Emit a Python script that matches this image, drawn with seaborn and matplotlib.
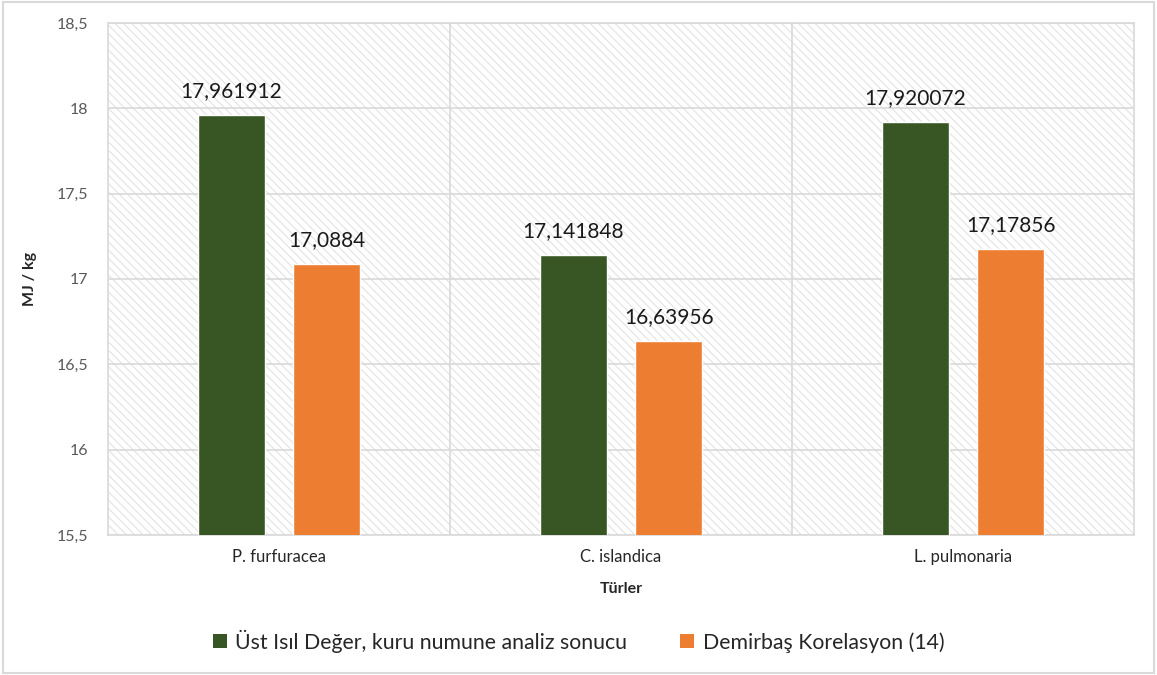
import matplotlib
matplotlib.use("Agg")
import matplotlib.pyplot as plt
import seaborn as sns
import pandas as pd
from matplotlib.patches import Rectangle, Patch

categories = ["P. furfuracea", "C. islandica", "L. pulmonaria"]
series_names = ["Üst Isıl Değer, kuru numune analiz sonucu", "Demirbaş Korelasyon (14)"]
ust_isil = [17.961912, 17.141848, 17.920072]
demirbas = [17.0884, 16.63956, 17.17856]
yticks = [15.5, 16, 16.5, 17, 17.5, 18, 18.5]
ytick_labels = ["15,5", "16", "16,5", "17", "17,5", "18", "18,5"]
colors = ["#375623", "#ED7D31"]

df = pd.DataFrame({
    "Türler": categories * 2,
    "value": ust_isil + demirbas,
    "series": [series_names[0]] * 3 + [series_names[1]] * 3,
})

sns.set_theme(style="white")
plt.rcParams["font.family"] = ["Lato", "DejaVu Sans"]
plt.rcParams["hatch.linewidth"] = 0.8

fig = plt.figure(figsize=(11.57, 6.75), dpi=100)
ax = fig.add_axes([108 / 1157, 1 - 535 / 675, (1134 - 108) / 1157, (535 - 23) / 675])

# hatched background
bg = Rectangle((0, 0), 1, 1, transform=ax.transAxes, facecolor="white",
               edgecolor="#e2e2e2", hatch="\\\\\\\\", linewidth=0, zorder=0)
ax.add_patch(bg)

sns.barplot(data=df, x="Türler", y="value", hue="series", palette=colors,
            width=0.557, gap=0.29, ax=ax, legend=False, zorder=3,
            saturation=1, errorbar=None)

ax.set_xlim(-0.5, 2.5)
ax.set_ylim(15.5, 18.5)
ax.set_yticks(yticks)
ax.set_yticklabels(ytick_labels, fontsize=11.5, color="#595959")
ax.tick_params(axis="x", labelsize=12, colors="#262626", pad=10, length=0)
ax.tick_params(axis="y", pad=14, length=0)
for t in ax.get_xticklabels():
    t.set_color("#262626")

for y in yticks:
    ax.axhline(y, color="#d9d9d9", linewidth=1.2, zorder=1)
for x in [0.5, 1.5]:
    ax.axvline(x, color="#d9d9d9", linewidth=1.2, zorder=1)
for s in ax.spines.values():
    s.set_color("#d9d9d9")
    s.set_linewidth(1.2)

label_sets = [["17,961912", "17,141848", "17,920072"], ["17,0884", "16,63956", "17,17856"]]
for cont, labs in zip(ax.containers, label_sets):
    ax.bar_label(cont, labels=labs, padding=10, fontsize=15, color="#1a1a1a")

ax.set_xlabel("Türler", fontsize=11.5, fontweight="bold", color="#262626", labelpad=12)
ax.set_ylabel("MJ / kg", fontsize=11.5, fontweight="bold", color="#262626", labelpad=14)

handles = [Patch(facecolor=c, edgecolor="none") for c in colors]
fig.legend(handles, series_names, loc="center", bbox_to_anchor=(0.5, 1 - 641 / 675),
           ncol=2, frameon=False, fontsize=15.3, handlelength=0.65, handleheight=0.65,
           handletextpad=0.4, columnspacing=2.5)

fig.patches.append(Rectangle((0.003, 0.003), 0.994, 0.994, transform=fig.transFigure,
                             fill=False, edgecolor="#d9d9d9", linewidth=1.5))

fig.savefig("out.png", dpi=100)
